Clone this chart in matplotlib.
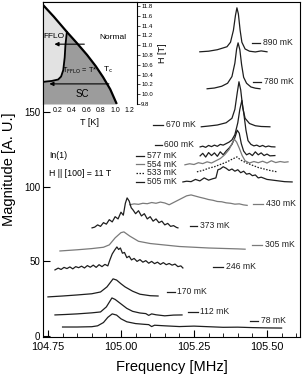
import matplotlib
matplotlib.use("Agg")
import matplotlib.pyplot as plt
from matplotlib.ticker import MultipleLocator

plt.rcParams['font.family'] = ['Liberation Sans', 'DejaVu Sans']

# --- spectra: frequency [MHz], magnitude [a.u.] ---
f_890 = [105.27, 105.30, 105.33, 105.35, 105.363, 105.375, 105.385, 105.392, 105.397,
         105.402, 105.408, 105.414, 105.425, 105.44, 105.46, 105.48, 105.50]
m_890 = [190.6, 191.0, 192.0, 193.2, 194.0, 197.0, 205.0, 215.0, 220.1,
         216.0, 205.0, 197.0, 192.5, 191.0, 190.5, 191.2, 190.6]

f_780 = [105.295, 105.32, 105.345, 105.365, 105.38, 105.39, 105.396, 105.401, 105.407,
         105.413, 105.42, 105.43, 105.445, 105.46, 105.476]
m_780 = [165.8, 166.3, 167.5, 169.5, 174.0, 183.0, 192.5, 196.6, 192.0,
         182.0, 173.5, 169.5, 167.0, 166.2, 165.8]

f_670 = [105.275, 105.30, 105.33, 105.36, 105.38, 105.39, 105.398, 105.404, 105.41,
         105.417, 105.425, 105.44, 105.46, 105.48, 105.51]
m_670 = [140.3, 140.8, 141.5, 143.0, 146.0, 152.0, 163.0, 170.5, 165.0,
         153.0, 146.0, 142.5, 141.0, 140.5, 140.3]

f_600 = [105.271, 105.28, 105.29, 105.30, 105.31, 105.32, 105.33, 105.34, 105.35, 105.36,
         105.37, 105.38, 105.39, 105.40, 105.407, 105.414, 105.42, 105.428, 105.435, 105.445,
         105.455, 105.465, 105.475, 105.485, 105.495, 105.505, 105.515, 105.527]
m_600 = [126.8, 127.3, 126.5, 127.8, 127.0, 128.0, 127.2, 128.5, 128.0, 129.0,
         130.0, 131.5, 135.0, 143.0, 152.0, 158.0, 150.0, 138.0, 131.0, 128.5,
         127.5, 128.0, 127.0, 127.8, 126.8, 127.4, 126.9, 126.8]

f_577 = [105.271, 105.28, 105.29, 105.30, 105.31, 105.32, 105.33, 105.34, 105.35, 105.36,
         105.37, 105.38, 105.39, 105.398, 105.405, 105.412, 105.42, 105.43, 105.44, 105.45,
         105.46, 105.47, 105.48, 105.49, 105.50, 105.51, 105.527]
m_577 = [120.8, 122.5, 120.0, 123.0, 121.0, 122.8, 120.5, 123.5, 121.5, 124.0,
         126.0, 128.5, 133.0, 138.0, 136.0, 129.0, 124.0, 121.5, 122.5, 121.0,
         123.5, 121.5, 122.8, 121.0, 122.0, 120.8, 121.0]

f_554 = [105.219, 105.235, 105.25, 105.265, 105.28, 105.295, 105.31, 105.325, 105.34,
         105.355, 105.37, 105.38, 105.388, 105.396, 105.405, 105.415, 105.425, 105.44,
         105.455, 105.47, 105.485, 105.50, 105.515, 105.53, 105.545, 105.56, 105.572]
m_554 = [114.8, 115.5, 115.0, 116.2, 115.6, 116.8, 116.0, 117.5, 119.0,
         121.5, 125.0, 129.0, 132.0, 130.0, 126.0, 121.0, 117.5, 116.0,
         117.0, 116.2, 117.2, 116.0, 117.5, 116.3, 117.0, 116.5, 116.8]

f_533 = [105.26, 105.28, 105.30, 105.32, 105.34, 105.36, 105.38, 105.397, 105.41,
         105.43, 105.45, 105.47, 105.49, 105.51, 105.534]
m_533 = [110.1, 111.0, 112.5, 113.5, 115.0, 116.5, 118.5, 120.1, 118.0,
         116.0, 114.5, 113.0, 112.0, 111.0, 110.1]

f_505 = [105.212, 105.225, 105.24, 105.255, 105.27, 105.285, 105.30, 105.315, 105.325,
         105.332, 105.34, 105.35, 105.36, 105.37, 105.38, 105.39, 105.40, 105.41, 105.42,
         105.43, 105.44, 105.45, 105.46, 105.47, 105.48, 105.50, 105.52, 105.54, 105.56, 105.586]
m_505 = [103.3, 103.8, 103.5, 105.0, 104.0, 106.0, 104.5, 105.5, 106.0,
         111.5, 112.0, 113.5, 112.5, 111.0, 112.0, 110.5, 111.5, 109.5, 110.5,
         108.5, 109.0, 107.5, 108.0, 106.0, 106.5, 105.0, 104.5, 104.0, 103.5, 103.3]

f_430 = [105.03, 105.045, 105.06, 105.075, 105.09, 105.105, 105.12, 105.135, 105.15, 105.165,
         105.18, 105.195, 105.21, 105.225, 105.24, 105.255, 105.27, 105.285, 105.30, 105.315,
         105.33, 105.345, 105.36, 105.375, 105.39, 105.405, 105.42, 105.432]
m_430 = [88.0, 88.6, 88.3, 89.0, 88.7, 89.5, 89.0, 89.8, 89.2, 88.0,
         89.5, 91.0, 92.5, 94.0, 94.6, 93.8, 93.0, 92.3, 91.5, 91.0,
         90.2, 90.0, 89.3, 89.0, 88.4, 88.6, 87.9, 87.6]

f_373 = [104.901, 104.91, 104.92, 104.93, 104.94, 104.95, 104.96, 104.97, 104.98, 104.99,
         105.00, 105.008, 105.015, 105.021, 105.028, 105.035, 105.041, 105.05, 105.06, 105.07,
         105.08, 105.09, 105.10, 105.11, 105.12, 105.13, 105.14, 105.15, 105.16, 105.17,
         105.18, 105.19, 105.195]
m_373 = [72.5, 73.0, 74.5, 73.5, 76.0, 75.0, 78.0, 76.5, 80.0, 78.5,
         83.0, 81.0, 89.0, 92.6, 90.5, 86.0, 84.6, 82.0, 84.0, 80.5,
         82.0, 78.5, 80.0, 77.0, 78.5, 76.0, 77.0, 74.5, 75.5, 73.5,
         74.0, 72.8, 72.5]

f_305 = [104.791, 104.85, 104.90, 104.94, 104.96, 104.98, 105.00, 105.01, 105.03,
         105.06, 105.10, 105.15, 105.20, 105.25, 105.30, 105.35, 105.40, 105.425]
m_305 = [57.0, 57.8, 58.6, 59.5, 61.1, 65.8, 69.3, 69.8, 67.0,
         63.5, 62.0, 61.0, 60.0, 59.5, 59.0, 58.7, 58.4, 58.2]

f_246 = [104.774, 104.785, 104.795, 104.805, 104.815, 104.825, 104.835, 104.845, 104.855,
         104.865, 104.875, 104.885, 104.895, 104.905, 104.915, 104.925, 104.935, 104.945,
         104.955, 104.962, 104.970, 104.978, 104.986, 104.992, 104.998, 105.005, 105.012,
         105.020, 105.028, 105.036, 105.045, 105.055, 105.065, 105.075, 105.085, 105.095,
         105.105, 105.115, 105.125, 105.135, 105.145, 105.155, 105.165, 105.175, 105.185,
         105.195, 105.205, 105.212]
m_246 = [44.3, 45.5, 44.6, 46.0, 45.2, 46.3, 45.0, 46.5, 45.8,
         46.8, 45.6, 47.2, 46.1, 47.5, 46.0, 47.8, 46.5, 48.0,
         47.0, 51.0, 55.0, 57.5, 59.7, 58.0, 59.0, 55.5, 56.0,
         52.5, 53.5, 51.0, 52.0, 50.0, 51.2, 49.5, 50.5, 48.8,
         50.0, 48.5, 49.5, 48.0, 49.2, 47.8, 48.6, 47.5, 48.2,
         46.5, 47.0, 45.6]

f_170 = [104.750, 104.80, 104.85, 104.90, 104.93, 104.952, 104.973, 104.985, 105.00,
         105.014, 105.04, 105.065, 105.10, 105.127]
m_170 = [26.2, 26.8, 27.5, 28.3, 29.5, 32.9, 38.3, 37.5, 35.0,
         32.9, 30.0, 28.0, 27.0, 26.8]

f_112 = [104.774, 104.81, 104.85, 104.90, 104.93, 104.95, 104.969, 104.98, 105.00,
         105.02, 105.04, 105.065, 105.085, 105.095, 105.105, 105.12, 105.15, 105.18, 105.209]
m_112 = [14.1, 14.4, 14.8, 15.5, 16.1, 19.5, 25.5, 24.5, 21.5,
         18.5, 16.5, 15.4, 15.0, 13.8, 14.8, 14.2, 13.5, 14.0, 14.1]

f_78 = [104.80, 104.85, 104.90, 104.92, 104.94, 104.955, 104.97, 104.985, 105.00, 105.02,
        105.05, 105.08, 105.095, 105.105, 105.115, 105.15, 105.20, 105.25, 105.30, 105.35,
        105.40, 105.45, 105.50, 105.55]
m_78 = [6.0, 6.0, 6.2, 6.8, 9.0, 12.5, 14.8, 14.0, 11.5, 9.5,
        8.3, 7.8, 7.6, 6.3, 7.2, 6.8, 6.3, 6.6, 6.2, 5.8,
        5.9, 5.6, 5.4, 5.3]

# --- phase diagram (inset): T [K], H [T] ---
tc_T = [0.0, 0.15, 0.33, 0.47, 0.61, 0.73, 0.83, 0.93, 1.02]
tc_H = [11.82, 11.58, 11.27, 11.04, 10.80, 10.57, 10.35, 10.10, 9.80]
fflo_T = [0.33, 0.31, 0.30, 0.28, 0.25, 0.21, 0.12, 0.05, 0.0]
fflo_H = [11.27, 11.00, 10.75, 10.49, 10.36, 10.30, 10.27, 10.26, 10.25]

DARK = '#1e1e1e'
GRAY = '#7a7a7a'

# curve, color, linestyle, label text, dash start/end, label y, text x
curves = [
    (f_890, m_890, DARK, '-', '890 mK', 105.449, 105.476, 196.6, 105.486),
    (f_780, m_780, DARK, '-', '780 mK', 105.452, 105.479, 170.5, 105.489),
    (f_670, m_670, DARK, '-', '670 mK', 105.110, 105.144, 141.6, 105.154),
    (f_600, m_600, DARK, '-', '600 mK', 105.116, 105.140, 128.2, 105.148),
    (f_577, m_577, DARK, '-', '577 mK', 105.051, 105.079, 120.8, 105.089),
    (f_554, m_554, GRAY, '-', '554 mK', 105.051, 105.079, 115.2, 105.089),
    (f_533, m_533, DARK, (0, (1.2, 1.2)), '533 mK', 105.051, 105.079, 109.4, 105.089),
    (f_505, m_505, DARK, '-', '505 mK', 105.051, 105.079, 103.3, 105.089),
    (f_430, m_430, GRAY, '-', '430 mK', 105.452, 105.486, 88.6, 105.497),
    (f_373, m_373, DARK, '-', '373 mK', 105.236, 105.260, 73.8, 105.271),
    (f_305, m_305, GRAY, '-', '305 mK', 105.449, 105.483, 61.1, 105.493),
    (f_246, m_246, DARK, '-', '246 mK', 105.315, 105.349, 46.3, 105.360),
    (f_170, m_170, DARK, '-', '170 mK', 105.158, 105.185, 29.5, 105.192),
    (f_112, m_112, DARK, '-', '112 mK', 105.229, 105.264, 16.1, 105.271),
    (f_78, m_78, DARK, '-', '78 mK', 105.442, 105.469, 10.1, 105.479),
]

W, H = 302, 377
fig = plt.figure(figsize=(W / 100, H / 100), dpi=100)
ax = fig.add_axes([43 / W, 40 / H, 257 / W, 335 / H])

for f, m, col, ls, lab, d0, d1, ly, tx in curves:
    ax.plot(f, m, color=col, ls=ls, lw=0.9)
    ax.plot([d0, d1], [ly, ly], color=col, ls=ls, lw=0.9)
    ax.text(tx, ly, lab, fontsize=6.2, va='center', ha='left', color='#222')

ax.set_xlim(104.733, 105.613)
ax.set_ylim(-0.7, 224)
ax.set_xticks([104.75, 105.00, 105.25, 105.50])
ax.set_xticklabels(['104.75', '105.00', '105.25', '105.50'])
ax.xaxis.set_minor_locator(MultipleLocator(0.05))
ax.set_yticks([0, 50, 100, 150])
ax.tick_params(axis='x', which='major', direction='in', length=5, width=0.8, labelsize=7.8, pad=3.5)
ax.tick_params(axis='x', which='minor', direction='in', length=3, width=0.6)
ax.tick_params(axis='y', which='major', direction='in', length=5, width=0.8, labelsize=7, pad=2)
for s in ax.spines.values():
    s.set_linewidth(0.8)
ax.set_xlabel('Frequency [MHz]', fontsize=10.5, labelpad=6)
ax.set_ylabel('Magnitude [A. U.]', fontsize=10.5, labelpad=6)

ax.text(104.755, 121, 'In(1)', fontsize=6.3, va='center', ha='left')
ax.text(104.755, 109, 'H || [100] = 11 T', fontsize=6.3, va='center', ha='left')

# --- inset: phase diagram ---
ins = fig.add_axes([43 / W, (H - 104) / H, 94 / W, 102 / H])
ins.set_xlim(0, 1.3)
ins.set_ylim(9.8, 11.88)
ins.fill_between(tc_T, tc_H, 9.8, color='#9c9c9c', lw=0)
fflo_poly_T = [0.0] + tc_T[:3] + fflo_T[1:]
fflo_poly_H = [10.25] + tc_H[:3] + fflo_H[1:]
ins.fill(fflo_poly_T, fflo_poly_H, color='#e2e2e2', lw=0)
ins.plot(tc_T, tc_H, color='k', lw=1.6, solid_capstyle='butt')
ins.plot(fflo_T, fflo_H, color='k', lw=1.3)
ins.annotate('', xy=(0.12, 11.02), xytext=(0.61, 11.02),
             arrowprops=dict(arrowstyle='-|>', color='k', lw=0.8, mutation_scale=6))
ins.annotate('', xy=(0.05, 10.21), xytext=(0.95, 10.21),
             arrowprops=dict(arrowstyle='-|>', color='k', lw=0.8, mutation_scale=6))
ins.text(0.15, 11.17, 'FFLO', fontsize=6, ha='center', va='center')
ins.text(0.97, 11.15, 'Normal', fontsize=6, ha='center', va='center')
ins.text(0.51, 10.47, r'T$_{\rm FFLO}$ = T*', fontsize=5.3, ha='center', va='center')
ins.text(0.90, 10.49, r'T$_{\rm c}$', fontsize=6, ha='center', va='center')
ins.text(0.54, 10.0, 'SC', fontsize=7, ha='center', va='center')

ins.set_xticks([0.2, 0.4, 0.6, 0.8, 1.0, 1.2])
ins.set_xticklabels(['0.2', '0.4', '0.6', '0.8', '1.0', '1.2'])
ins.set_yticks([9.8 + 0.2 * i for i in range(11)])
ins.set_yticklabels(['%.1f' % (9.8 + 0.2 * i) for i in range(11)])
ins.yaxis.tick_right()
ins.yaxis.set_label_position('right')
ins.tick_params(axis='x', length=0, labelsize=5, pad=2)
ins.tick_params(axis='y', direction='out', length=2, width=0.5, labelsize=4.3, pad=1)
ins.spines['bottom'].set_visible(False)
for k in ('left', 'top', 'right'):
    ins.spines[k].set_linewidth(0.8)
ins.set_xlabel('T [K]', fontsize=6.5, labelpad=3)
ins.set_ylabel('H [T]', fontsize=6.5, labelpad=4, rotation=90)

fig.savefig('out.png', dpi=100)
